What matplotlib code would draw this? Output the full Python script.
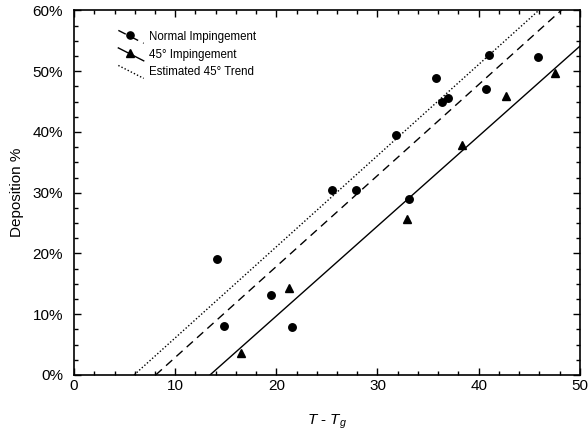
import numpy as np
import matplotlib.pyplot as plt
from matplotlib.lines import Line2D
from matplotlib.legend_handler import HandlerLine2D
from matplotlib.ticker import MultipleLocator, PercentFormatter

plt.rcParams['font.family'] = ['Liberation Sans', 'DejaVu Sans']
plt.rcParams['mathtext.fontset'] = 'custom'
plt.rcParams['mathtext.it'] = 'Liberation Sans:italic'
plt.rcParams['mathtext.rm'] = 'Liberation Sans'

# normal impingement (circles)
normal_x = [14.1, 14.85, 19.5, 21.55, 25.5, 27.9, 31.8, 33.1, 35.8, 36.4, 37.0, 40.7, 41.0, 45.9]
normal_y = [19.1, 8.1, 13.1, 7.9, 30.5, 30.5, 39.5, 29.0, 48.9, 45.0, 45.6, 47.1, 52.7, 52.3]

# 45 degree impingement (triangles)
tri_x = [16.5, 21.25, 32.9, 38.4, 42.75, 47.6]
tri_y = [3.6, 14.3, 25.6, 37.9, 45.9, 49.7]

# trend lines: x where deposition is 0, slope in % per unit
line_names = ['Normal Impingement', '45° Impingement', 'Estimated 45° Trend']
line_x0 = [8.07, 13.44, 5.93]
line_slope = [1.497, 1.48, 1.50]
line_styles = [(0, (6, 4)), '-', (0, (1, 1.5))]
line_markers = ['o', '^', None]


class DiagonalHandler(HandlerLine2D):
    def __init__(self, ls, mk, **kw):
        super().__init__(**kw)
        self.ls = ls
        self.mk = mk

    def create_artists(self, legend, orig_handle, xdescent, ydescent,
                       width, height, fontsize, trans):
        x = [-xdescent, -xdescent + width]
        y = [height * 1.2 - ydescent, -height * 0.4 - ydescent]
        ln = Line2D(x, y, color='black', lw=1.0, linestyle=self.ls)
        ln.set_transform(trans)
        arts = [ln]
        if self.mk:
            mk = Line2D([np.mean(x) - 1], [np.mean(y) + 1], color='black',
                        linestyle='None', marker=self.mk, markersize=5.2)
            mk.set_transform(trans)
            arts.append(mk)
        return arts


fig = plt.figure(figsize=(5.88, 4.37), dpi=100)
ax = fig.add_axes([0.126, 0.142, 0.86, 0.834])

ax.plot(normal_x, normal_y, 'o', color='black', ms=5.4)
ax.plot(tri_x, tri_y, '^', color='black', ms=5.4)

handles = []
hmap = {}
for name, x0, k, ls, mk in zip(line_names, line_x0, line_slope, line_styles, line_markers):
    xs = np.array([x0, 50.0])
    ax.plot(xs, k * (xs - x0), color='black', lw=1.0, linestyle=ls)
    h = Line2D([], [], color='black', label=name)
    handles.append(h)
    hmap[h] = DiagonalHandler(ls, mk)

ax.set_xlim(0, 50)
ax.set_ylim(0, 60)
ax.xaxis.set_major_locator(MultipleLocator(10))
ax.xaxis.set_minor_locator(MultipleLocator(2))
ax.yaxis.set_major_locator(MultipleLocator(10))
ax.yaxis.set_minor_locator(MultipleLocator(2.5))
ax.yaxis.set_major_formatter(PercentFormatter(decimals=0))
ax.tick_params(which='both', direction='in', top=True, right=True, labelsize=11,
               width=1.0)
ax.tick_params(which='major', length=5)
ax.tick_params(which='minor', length=3)
ax.tick_params(axis='x', which='major', pad=3)
ax.tick_params(axis='y', which='major', pad=8)
for s in ax.spines.values():
    s.set_linewidth(1.2)

ax.set_xlabel(r'$T$ - $T_g$', fontsize=11, labelpad=14)
ax.set_ylabel('Deposition %', fontsize=11, labelpad=6)

ax.legend(handles=handles, loc='upper left', bbox_to_anchor=(0.067, 0.972),
          frameon=False, fontsize=8.3, handlelength=2.2, handletextpad=0.5,
          labelspacing=0.48, handler_map=hmap)

fig.savefig('out.png', dpi=100)
